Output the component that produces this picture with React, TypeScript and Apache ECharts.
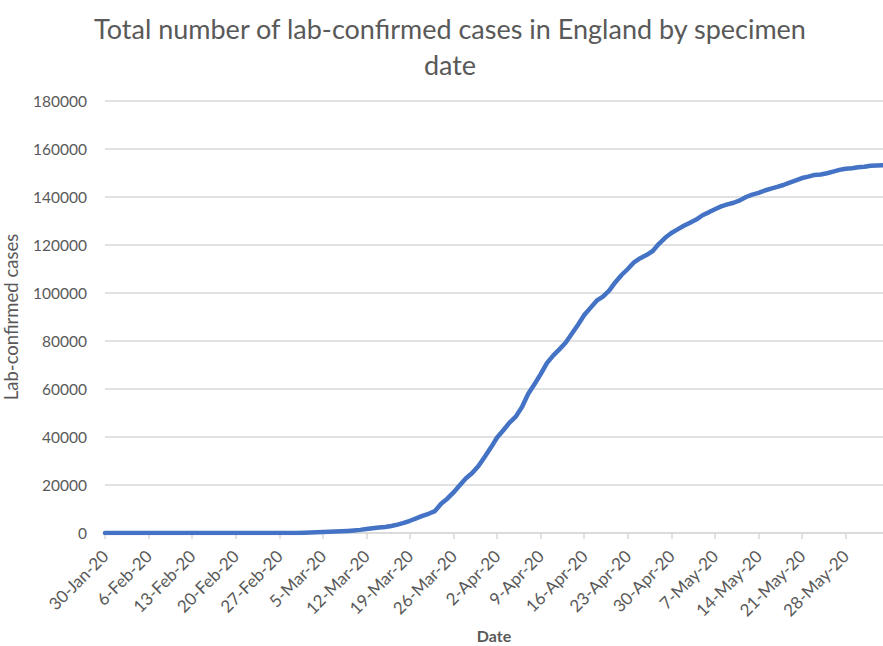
import React, { useEffect, useRef } from "react";
import * as echarts from "echarts";

const START_DATE = [2020, 0, 30]; // 30-Jan-20
const MONTHS = ["Jan", "Feb", "Mar", "Apr", "May", "Jun", "Jul", "Aug", "Sep", "Oct", "Nov", "Dec"];

const cases = [
  0, 0, 2, 2, 2, 2, 2, 2, 3, 3, 3, 8, 9, 9, 9, 9, 9, 9, 9, 9, 9, 9, 9, 10, 12, 14, 16, 18, 20, 24, 30, 40,
  120, 250, 330, 420, 500, 600, 700, 850, 1050, 1300, 1650, 1950, 2250, 2500, 2900, 3500, 4200, 5100,
  6100, 7100, 8000, 9100, 12200, 14300, 16900, 19900, 22800, 25000, 27900, 31700, 35600, 39800,
  42800, 46000, 48500, 52500, 58000, 62000, 66200, 70800, 73900, 76500, 79300, 83000, 86800, 90800,
  93800, 96800, 98500, 101000, 104500, 107500, 110000, 112800, 114500, 115800, 117500, 120500,
  123000, 125000, 126500, 128000, 129300, 130600, 132400, 133600, 134900, 136100, 136900, 137600,
  138600, 140000, 141000, 141700, 142700, 143500, 144200, 145000, 146000, 146900, 147900, 148500,
  149200, 149400, 149900, 150600, 151300, 151800, 152000, 152400, 152600, 153000, 153100, 153200,
];

const yTicks = [0, 20000, 40000, 60000, 80000, 100000, 120000, 140000, 160000, 180000];

function buildDates(n: number): string[] {
  const out: string[] = [];
  for (let i = 0; i < n; i++) {
    const d = new Date(START_DATE[0], START_DATE[1], START_DATE[2] + i);
    out.push(`${d.getDate()}-${MONTHS[d.getMonth()]}-${String(d.getFullYear()).slice(2)}`);
  }
  return out;
}

const dates = buildDates(cases.length);

export default function App() {
  const ref = useRef<HTMLDivElement>(null);
  useEffect(() => {
    if (!ref.current) return;
    const chart = echarts.init(ref.current, undefined, { renderer: "svg" });
    const font = "Lato, 'Open Sans', sans-serif";
    chart.setOption({
      animation: false,
      backgroundColor: "#ffffff",
      title: {
        text: "Total number of lab-confirmed cases in England by specimen\ndate",
        left: 450,
        textAlign: "center",
        top: 10,
        padding: 0,
        textStyle: {
          fontFamily: font,
          fontSize: 27,
          fontWeight: "normal",
          color: "#595959",
          lineHeight: 36,
        },
      },
      grid: {
        left: 105,
        right: 0,
        top: 101,
        bottom: 113,
        containLabel: false,
        outerBoundsMode: "none",
      },
      xAxis: {
        type: "category",
        data: dates,
        boundaryGap: false,
        name: "Date",
        nameLocation: "middle",
        nameGap: 94,
        nameTextStyle: { fontFamily: font, fontSize: 16, fontWeight: "bold", color: "#595959" },
        axisLine: { lineStyle: { color: "#d9d9d9", width: 1.5 } },
        axisTick: { show: true, interval: 6, length: 6, lineStyle: { color: "#d9d9d9", width: 1.5 } },
        axisLabel: {
          interval: 6,
          rotate: 45,
          fontFamily: font,
          fontSize: 17,
          color: "#595959",
          margin: 20,
          hideOverlap: false,
        },
        splitLine: { show: false },
      },
      yAxis: {
        type: "value",
        min: yTicks[0],
        max: yTicks[yTicks.length - 1],
        interval: 20000,
        name: "Lab-confirmed cases",
        nameLocation: "middle",
        nameGap: 85,
        nameTextStyle: { fontFamily: font, fontSize: 18.5, color: "#595959" },
        axisLine: { show: false },
        axisTick: { show: false },
        axisLabel: {
          fontFamily: font,
          fontSize: 15.5,
          color: "#595959",
          margin: 18,
          formatter: (v: number) => String(v),
        },
        splitLine: { lineStyle: { color: "#d9d9d9", width: 1.5 } },
      },
      series: [
        {
          type: "line",
          data: cases,
          showSymbol: false,
          symbol: "none",
          lineStyle: { color: "#4472C4", width: 4.5, cap: "round", join: "round" },
        },
      ],
    });
    return () => chart.dispose();
  }, []);
  return (
    <div
      ref={ref}
      style={{ position: "fixed", left: 0, top: 0, width: 883, height: 646, background: "#fff" }}
    />
  );
}
